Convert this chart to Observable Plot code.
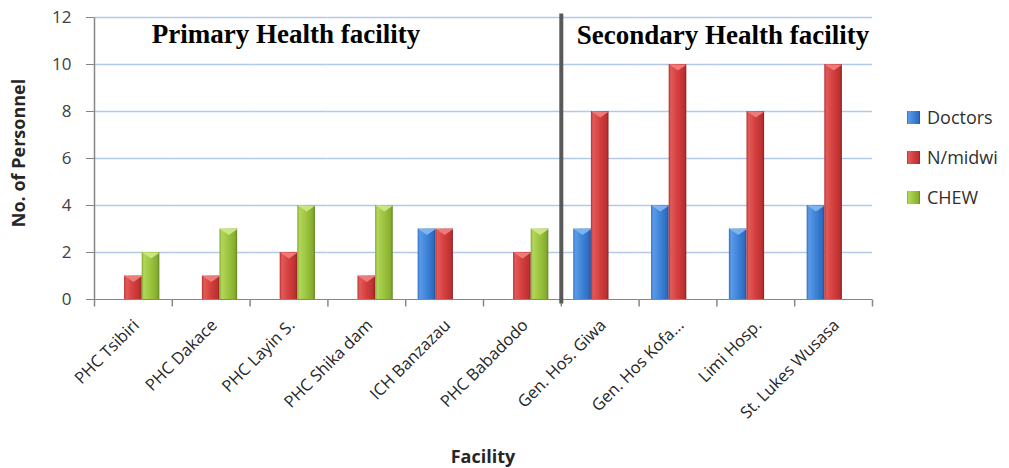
<!DOCTYPE html>
<html>
<head>
<meta charset="utf-8">
<script src="https://cdn.jsdelivr.net/npm/d3@7"></script>
<script src="https://cdn.jsdelivr.net/npm/@observablehq/plot@0.6"></script>
<style>
  body { margin: 0; background: #fff; }
  #wrap { position: relative; width: 1009px; height: 468px; font-family: "Open Sans", sans-serif; }
  #wrap svg { display: block; }
  .ov { position: absolute; white-space: nowrap; color: #262626; }
  .ytitle { left: 18px; top: 153px; transform: translate(-50%, -50%) rotate(-90deg); font-weight: bold; font-size: 18px; }
  .xtitle { left: 483px; top: 456px; transform: translate(-50%, -50%); font-weight: bold; font-size: 18px; }
  .leg { left: 907px; font-size: 18px; display: flex; align-items: center; transform: translateY(-50%); color: #303030; }
  .leg .sw { width: 13px; height: 13px; margin-right: 7px; }
</style>
</head>
<body>
<div id="wrap"></div>
<script>
// ---- data ----
const facilities = ["PHC Tsibiri", "PHC Dakace", "PHC Layin S.", "PHC Shika dam", "ICH Banzazau",
  "PHC Babadodo", "Gen. Hos. Giwa", "Gen. Hos Kofa...", "Limi Hosp.", "St. Lukes Wusasa"];
const series = ["Doctors", "N/midwi", "CHEW"];
const doctors  = [0, 0, 0, 0, 3, 0, 3, 4, 3, 4];
const midwives = [1, 1, 2, 1, 3, 2, 8, 10, 8, 10];
const chew     = [2, 3, 4, 4, 0, 3, 0, 0, 0, 0];
const yTicks = [0, 2, 4, 6, 8, 10, 12];
const sectionTitles = ["Primary Health facility", "Secondary Health facility"];
const yTitle = "No. of Personnel";
const xTitle = "Facility";

// ---- styles ----
const grads = [
  ["gradD", ["#2d6cc0", "#5a9be8", "#3f84d8", "#2f6cc0", "#1e4f96"]],
  ["gradN", ["#b52e2e", "#e25a58", "#d43f3e", "#bb3131", "#8e2020"]],
  ["gradC", ["#7fa62c", "#b2d65a", "#9cc43e", "#86ad30", "#5f8220"]]
];
const gradStops = [0, 0.12, 0.5, 0.88, 1];
const topColors = ["#7db3ef", "#ec7b79", "#cbe582"];

const values = [doctors, midwives, chew];
const data = facilities.flatMap((f, i) => series.map((s, k) => ({facility: f, series: s, value: values[k][i]})));
const shown = data.filter(d => d.value > 0);

const triDown = {draw(ctx) { ctx.moveTo(-8.8, 0); ctx.lineTo(8.8, 0); ctx.lineTo(0, 6); ctx.closePath(); }};
const tickSym = {draw(ctx) { ctx.moveTo(0, 0); ctx.lineTo(0, 7); }};
const yLine = {draw(ctx) { ctx.moveTo(0, -141); ctx.lineTo(0, 141); }};
const divider = {draw(ctx) { ctx.rect(-2, -145, 4, 290); }};

const chart = Plot.plot({
  width: 1009,
  height: 468,
  marginLeft: 94,
  marginRight: 137,
  marginTop: 17,
  marginBottom: 169,
  style: {fontFamily: "Open Sans", background: "white"},
  fx: {domain: facilities, padding: 0, round: false, label: null},
  x: {domain: series, paddingInner: 0, paddingOuter: 0.707, round: false, axis: null},
  y: {domain: [0, 12], axis: null},
  color: {domain: series, range: grads.map(g => `url(#${g[0]})`)},
  marks: [
    Plot.ruleY(yTicks.filter(d => d > 0), {stroke: "#b3c9ec", strokeWidth: 1.5}),
    Plot.barY(shown, {fx: "facility", x: "series", y: "value", fill: "series", insetLeft: 0, insetRight: 0}),
    ...series.map((s, k) => Plot.dot(shown.filter(d => d.series === s), {
      fx: "facility", x: "series", y: "value", symbol: triDown, fill: topColors[k], stroke: "none"
    })),
    Plot.ruleY([0], {stroke: "#868686"}),
    Plot.axisY({ticks: yTicks, tickSize: 8, tickPadding: 15, fontSize: 17, stroke: "#868686", fill: "#404040", label: null}),
    Plot.axisFx({anchor: "bottom", tickRotate: -45, tickSize: 0, tickPadding: 23, dx: 3, fontSize: 16.5, fill: "#262626", label: null}),
    Plot.dot(facilities, {fx: d => d, frameAnchor: "bottom-left", symbol: tickSym, stroke: "#868686", fill: "none"}),
    Plot.dot(facilities.slice(-1), {fx: d => d, frameAnchor: "bottom-right", symbol: tickSym, stroke: "#868686", fill: "none"}),
    Plot.dot(facilities.slice(0, 1), {fx: d => d, frameAnchor: "left", symbol: yLine, stroke: "#868686", fill: "none"}),
    Plot.dot([facilities[6]], {fx: d => d, frameAnchor: "left", symbol: divider, fill: "#595959", stroke: "none"}),
    Plot.text([{fx: facilities[2], t: sectionTitles[0]}], {
      fx: "fx", text: "t", frameAnchor: "top", lineAnchor: "middle", dy: 17, dx: -3,
      fontFamily: "Liberation Serif", fontWeight: "bold", fontSize: 27, fill: "black"
    }),
    Plot.text([{fx: facilities[7], t: sectionTitles[1]}], {
      fx: "fx", text: "t", frameAnchor: "top-right", lineAnchor: "middle", textAnchor: "middle", dy: 18, dx: 6,
      fontFamily: "Liberation Serif", fontWeight: "bold", fontSize: 27, fill: "black"
    })
  ]
});

// gradient definitions for the bevelled bars
const defs = d3.select(chart).insert("defs", ":first-child");
grads.forEach(([id, cols]) => {
  const g = defs.append("linearGradient").attr("id", id).attr("x1", 0).attr("x2", 1).attr("y1", 0).attr("y2", 0);
  cols.forEach((c, i) => g.append("stop").attr("offset", gradStops[i]).attr("stop-color", c));
});

const wrap = document.getElementById("wrap");
wrap.appendChild(chart);

const yt = document.createElement("div");
yt.className = "ov ytitle"; yt.textContent = yTitle; wrap.appendChild(yt);
const xt = document.createElement("div");
xt.className = "ov xtitle"; xt.textContent = xTitle; wrap.appendChild(xt);

const legTops = [117, 157, 197];
series.forEach((s, k) => {
  const item = document.createElement("div");
  item.className = "ov leg";
  item.style.top = legTops[k] + "px";
  const sw = document.createElement("div");
  sw.className = "sw";
  sw.style.background = `linear-gradient(to right, ${grads[k][1].map((c, i) => c + " " + gradStops[i] * 100 + "%").join(", ")})`;
  item.appendChild(sw);
  const t = document.createElement("span");
  t.textContent = s;
  item.appendChild(t);
  wrap.appendChild(item);
});
</script>
</body>
</html>
